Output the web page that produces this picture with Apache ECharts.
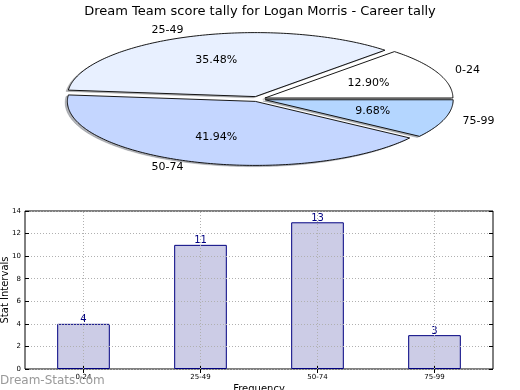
<!DOCTYPE html>
<html><head><meta charset="utf-8">
<script src="https://cdn.jsdelivr.net/npm/echarts@6/dist/echarts.min.js"></script>
<style>html,body{margin:0;padding:0;background:#fff}#c{width:520px;height:390px}</style>
</head><body><div id="c"></div>
<script>
const categories = ['0-24', '25-49', '50-74', '75-99'];
const counts = [4, 11, 13, 3];
const pctLabels = ['12.90%', '35.48%', '41.94%', '9.68%'];
const sliceColors = ['#FFFFFF', '#E8F0FF', '#C4D6FF', '#B4D6FF'];
const yTicks = [0, 14, 2];

const FONT = 'DejaVu Sans';
const EXPLODE = 0.04;
const total = counts.reduce((a, b) => a + b, 0);

function sliceAngles(i) {
  let before = 0;
  for (let k = 0; k < i; k++) before += counts[k];
  const s = before / total * 2 * Math.PI;
  const e = (before + counts[i]) / total * 2 * Math.PI;
  return [s, e];
}
function slicePoints(i, dx, dy) {
  const [s, e] = sliceAngles(i);
  const m = (s + e) / 2;
  const ox = EXPLODE * Math.cos(m) + dx, oy = EXPLODE * Math.sin(m) + dy;
  const pts = [[ox, oy]];
  const n = Math.max(4, Math.ceil((e - s) / (Math.PI / 180)));
  for (let j = 0; j <= n; j++) {
    const a = s + (e - s) * j / n;
    pts.push([ox + Math.cos(a), oy + Math.sin(a)]);
  }
  return pts;
}
function shade(hex) {
  const r = parseInt(hex.substr(1, 2), 16) * 0.3, g = parseInt(hex.substr(3, 2), 16) * 0.3, b = parseInt(hex.substr(5, 2), 16) * 0.3;
  return 'rgba(' + Math.round(r) + ',' + Math.round(g) + ',' + Math.round(b) + ',0.4)';
}

const chart = echarts.init(document.getElementById('c'), null, {renderer: 'canvas'});
chart.setOption({
  animation: false,
  backgroundColor: '#fff',
  title: {
    text: 'Dream Team score tally for Logan Morris - Career tally',
    left: 'center', top: 0,
    textStyle: {fontFamily: FONT, fontSize: 13, fontWeight: 'normal', color: '#000'}
  },
  grid: [
    {left: 70, width: 376, top: 35, height: 128, show: false, outerBoundsMode: 'none', containLabel: false},
    {left: 25, right: 27, top: 211, bottom: 21, show: true, borderColor: '#000', borderWidth: 1,
      backgroundColor: 'transparent', outerBoundsMode: 'none', containLabel: false}
  ],
  xAxis: [
    {gridIndex: 0, type: 'value', min: -1, max: 1, show: false},
    {gridIndex: 1, type: 'category', data: categories, z: 5,
      axisLine: {show: false},
      axisTick: {show: true, inside: true, alignWithLabel: true, length: 4, lineStyle: {color: '#000'}},
      axisLabel: {fontFamily: FONT, fontSize: 7, color: '#000', margin: 5},
      splitLine: {show: false},
      name: 'Frequency', nameLocation: 'middle', nameGap: 15, nameMoveOverlap: false,
      nameTextStyle: {fontFamily: FONT, fontSize: 10, color: '#000'}},
    {gridIndex: 1, type: 'category', data: categories, position: 'top', z: 5,
      axisLine: {show: false}, axisLabel: {show: false},
      axisTick: {show: true, inside: true, alignWithLabel: true, length: 4, lineStyle: {color: '#000'}}}
  ],
  yAxis: [
    {gridIndex: 0, type: 'value', min: -1, max: 1, show: false},
    {gridIndex: 1, type: 'value', min: yTicks[0], max: yTicks[1], interval: yTicks[2], z: 5,
      axisLine: {show: false},
      axisTick: {show: true, inside: true, length: 4, lineStyle: {color: '#000'}},
      axisLabel: {fontFamily: FONT, fontSize: 7, color: '#000', margin: 4},
      splitLine: {show: true, lineStyle: {color: '#b0b0b0', type: [1, 2], width: 1}},
      name: 'Stat Intervals', nameLocation: 'middle', nameGap: 14.5, nameRotate: 90, nameMoveOverlap: false,
      nameTextStyle: {fontFamily: FONT, fontSize: 10, color: '#000'}},
    {gridIndex: 1, type: 'value', min: yTicks[0], max: yTicks[1], interval: yTicks[2], position: 'right', z: 5,
      axisLine: {show: false}, axisLabel: {show: false}, splitLine: {show: false},
      axisTick: {show: true, inside: true, length: 4, lineStyle: {color: '#000'}}}
  ],
  graphic: [{
    type: 'text', left: 0, top: 375, z: 10,
    style: {text: 'Dream-Stats.com', fontFamily: FONT, fontSize: 12, fill: '#999'}
  }],
  series: [
    {
      type: 'custom', xAxisIndex: 0, yAxisIndex: 0, z: 1, silent: true,
      data: categories.map((c, i) => [i]),
      renderItem: function (params, api) {
        const i = api.value(0);
        const pts = slicePoints(i, -0.012, -0.02).map(p => api.coord(p));
        return {type: 'polygon', shape: {points: pts},
          style: {fill: shade(sliceColors[i]), stroke: shade(sliceColors[i]), lineWidth: 0.5}};
      }
    },
    {
      type: 'custom', xAxisIndex: 0, yAxisIndex: 0, z: 2, silent: true,
      data: categories.map((c, i) => [i]),
      renderItem: function (params, api) {
        const i = api.value(0);
        const pts = slicePoints(i, 0, 0).map(p => api.coord(p));
        const [s, e] = sliceAngles(i);
        const m = (s + e) / 2;
        const ox = EXPLODE * Math.cos(m), oy = EXPLODE * Math.sin(m);
        const lp = api.coord([ox + 1.1 * Math.cos(m), oy + 1.1 * Math.sin(m)]);
        const pp = api.coord([ox + 0.6 * Math.cos(m), oy + 0.6 * Math.sin(m)]);
        return {type: 'group', children: [
          {type: 'polygon', shape: {points: pts},
            style: {fill: sliceColors[i], stroke: '#000', lineWidth: 0.9}},
          {type: 'text', x: lp[0], y: lp[1],
            style: {text: categories[i], fontFamily: FONT, fontSize: 11, fill: '#000',
              align: Math.cos(m) < 0 ? 'right' : 'left', verticalAlign: 'middle'}},
          {type: 'text', x: pp[0], y: pp[1],
            style: {text: pctLabels[i], fontFamily: FONT, fontSize: 11, fill: '#000',
              align: 'center', verticalAlign: 'middle'}}
        ]};
      }
    },
    {
      type: 'bar', xAxisIndex: 1, yAxisIndex: 1, z: 2,
      data: counts, barWidth: '45%',
      itemStyle: {color: '#CCCCE6', borderColor: '#000080', borderWidth: 1},
      label: {show: true, position: 'top', distance: -1, fontFamily: FONT, fontSize: 10, color: '#000080'}
    },
    {
      type: 'line', xAxisIndex: 1, yAxisIndex: 1, data: [], silent: true,
      markLine: {
        silent: true, symbol: 'none', label: {show: false}, z: 6,
        lineStyle: {color: '#b0b0b0', type: [1, 2], width: 1},
        data: categories.map(c => ({xAxis: c}))
      }
    }
  ]
});
</script></body></html>
